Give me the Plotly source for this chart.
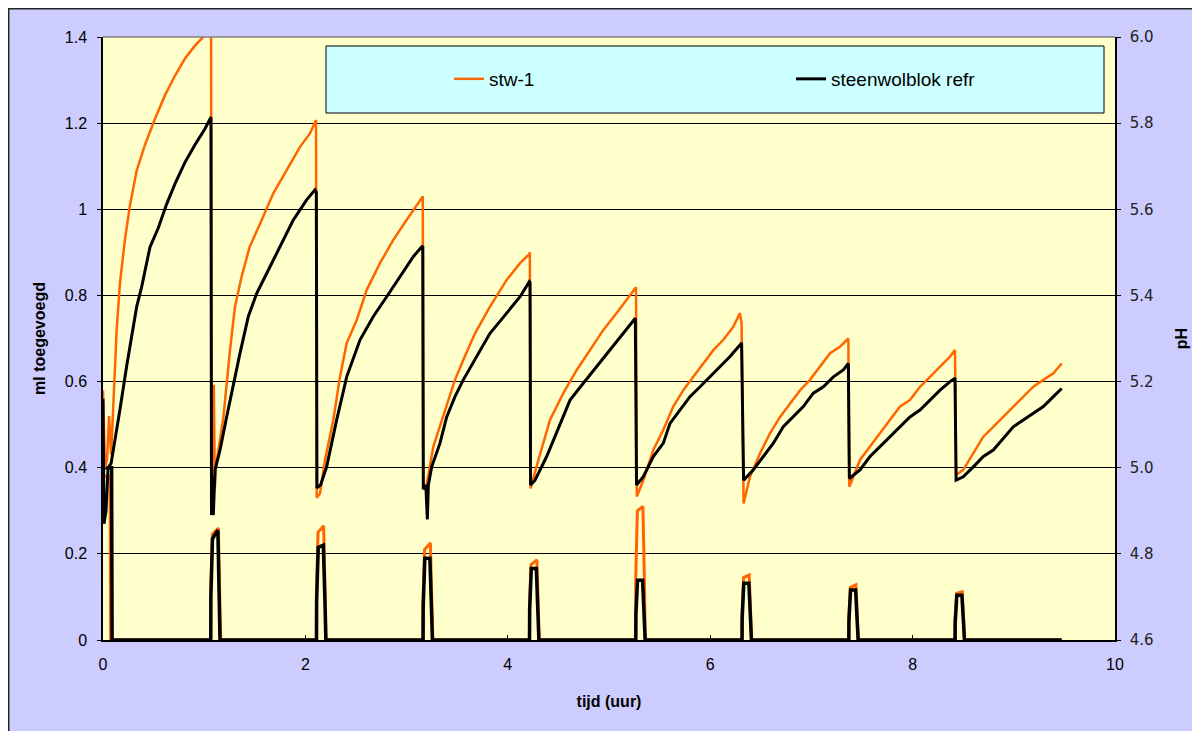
import plotly.graph_objects as go

# ---------------- data ----------------
# pH curves (right axis)
t_ph_stw = [0.0, 0.02, 0.04, 0.06, 0.08, 0.10, 0.135, 0.168, 0.217, 0.267, 0.333, 0.415, 0.514, 0.613, 0.711, 0.81, 0.909, 0.99, 1.068,
            1.072, 1.085, 1.095, 1.105, 1.115, 1.19, 1.255, 1.304, 1.37, 1.45, 1.568, 1.683, 1.815, 1.947, 2.045, 2.105,
            2.112, 2.144, 2.194, 2.276, 2.342, 2.408, 2.507, 2.606, 2.737, 2.869, 3.0, 3.149, 3.16,
            3.165, 3.19, 3.264, 3.347, 3.396, 3.478, 3.56, 3.676, 3.824, 3.989, 4.121, 4.213, 4.218,
            4.225, 4.302, 4.417, 4.549, 4.681, 4.812, 4.944, 5.076, 5.208, 5.267,
            5.275, 5.339, 5.438, 5.537, 5.635, 5.734, 5.833, 5.932, 6.031, 6.13, 6.228, 6.294, 6.31,
            6.33, 6.393, 6.492, 6.591, 6.69, 6.789, 6.888, 6.986, 7.085, 7.184, 7.283, 7.355, 7.365,
            7.375, 7.48, 7.579, 7.678, 7.777, 7.876, 7.974, 8.073, 8.172, 8.271, 8.37, 8.419,
            8.43, 8.5, 8.6, 8.699, 8.797, 8.896, 8.995, 9.094, 9.193, 9.292, 9.391, 9.473]
ph_stw = [5.18, 5.00, 5.02, 5.12, 5.03, 5.14, 5.32, 5.43, 5.53, 5.61, 5.69, 5.75, 5.81, 5.865, 5.91, 5.95, 5.98, 6.00, 6.04,
          4.90, 5.19, 5.19, 4.95, 5.00, 5.118, 5.273, 5.374, 5.444, 5.513, 5.575, 5.637, 5.691, 5.745, 5.776, 5.807,
          4.93, 4.94, 5.018, 5.111, 5.211, 5.289, 5.343, 5.413, 5.475, 5.529, 5.575, 5.629, 5.63,
          4.96, 4.95, 5.049, 5.111, 5.142, 5.204, 5.25, 5.312, 5.374, 5.436, 5.475, 5.496, 5.50,
          4.952, 5.018, 5.111, 5.173, 5.227, 5.273, 5.32, 5.359, 5.401, 5.419,
          4.933, 4.971, 5.041, 5.088, 5.142, 5.18, 5.211, 5.242, 5.273, 5.297, 5.327, 5.359, 5.336,
          4.917, 4.979, 5.033, 5.08, 5.118, 5.15, 5.18, 5.204, 5.235, 5.266, 5.281, 5.298, 5.30,
          4.956, 5.018, 5.049, 5.08, 5.111, 5.142, 5.157, 5.188, 5.211, 5.235, 5.258, 5.273,
          4.983, 4.995, 5.033, 5.072, 5.095, 5.118, 5.142, 5.165, 5.188, 5.204, 5.219, 5.242]

t_ph_ref = [0.0, 0.01, 0.03, 0.05, 0.08, 0.119, 0.168, 0.234, 0.283, 0.333, 0.382, 0.464, 0.547, 0.629, 0.711, 0.81, 0.909, 1.008, 1.067,
            1.072, 1.08, 1.09, 1.107, 1.156, 1.222, 1.288, 1.354, 1.436, 1.519, 1.617, 1.749, 1.88, 2.012, 2.095, 2.108,
            2.114, 2.15, 2.21, 2.309, 2.408, 2.54, 2.671, 2.803, 2.935, 3.066, 3.149, 3.16,
            3.165, 3.19, 3.205, 3.215, 3.248, 3.33, 3.396, 3.478, 3.56, 3.692, 3.824, 3.989, 4.121, 4.213, 4.22,
            4.225, 4.269, 4.384, 4.516, 4.615, 4.746, 4.878, 5.01, 5.141, 5.26,
            5.272, 5.339, 5.438, 5.537, 5.603, 5.702, 5.8, 5.9, 5.998, 6.097, 6.196, 6.294, 6.31,
            6.33, 6.426, 6.525, 6.624, 6.722, 6.821, 6.92, 7.019, 7.118, 7.217, 7.315, 7.365,
            7.375, 7.48, 7.579, 7.678, 7.777, 7.876, 7.974, 8.073, 8.172, 8.271, 8.37, 8.419,
            8.43, 8.5, 8.6, 8.699, 8.797, 8.896, 8.995, 9.094, 9.193, 9.292, 9.391, 9.473]
ph_ref = [5.16, 4.87, 4.90, 5.00, 5.01, 5.062, 5.136, 5.236, 5.30, 5.374, 5.42, 5.512, 5.557, 5.612, 5.659, 5.709, 5.75, 5.787, 5.814,
          4.89, 4.98, 4.89, 4.995, 5.041, 5.118, 5.196, 5.266, 5.351, 5.405, 5.451, 5.513, 5.575, 5.622, 5.645, 5.64,
          4.953, 4.96, 5.002, 5.111, 5.211, 5.297, 5.351, 5.397, 5.444, 5.49, 5.513, 5.515,
          4.95, 4.96, 4.88, 4.96, 5.002, 5.057, 5.118, 5.165, 5.204, 5.258, 5.312, 5.359, 5.397, 5.432, 5.43,
          4.96, 4.971, 5.026, 5.103, 5.157, 5.196, 5.235, 5.273, 5.312, 5.347,
          4.96, 4.979, 5.026, 5.057, 5.103, 5.134, 5.165, 5.188, 5.211, 5.235, 5.258, 5.285, 5.29,
          4.971, 4.995, 5.026, 5.057, 5.095, 5.118, 5.142, 5.173, 5.188, 5.211, 5.227, 5.242,
          4.975, 4.995, 5.026, 5.049, 5.072, 5.095, 5.118, 5.134, 5.157, 5.18, 5.20, 5.208,
          4.971, 4.979, 5.002, 5.026, 5.041, 5.068, 5.095, 5.111, 5.126, 5.142, 5.165, 5.184]

# ml added (left axis)
t_ml_stw = [0.0, 0.07, 0.075,
            1.063, 1.064, 1.08, 1.14, 1.155, 1.163,
            2.108, 2.109, 2.125, 2.18, 2.196, 2.205,
            3.161, 3.162, 3.178, 3.235, 3.25, 3.26,
            4.213, 4.214, 4.23, 4.287, 4.302, 4.311,
            5.263, 5.264, 5.28, 5.335, 5.35, 5.359,
            6.313, 6.314, 6.33, 6.385, 6.40, 6.409,
            7.368, 7.369, 7.385, 7.44, 7.455, 7.464,
            8.418, 8.419, 8.435, 8.49, 8.505, 8.514,
            9.473]
ml_stw = [0.38, 0.38, 0.0,
          0.0, 0.11, 0.245, 0.26, 0.11, 0.0,
          0.0, 0.11, 0.25, 0.265, 0.10, 0.0,
          0.0, 0.085, 0.21, 0.225, 0.08, 0.0,
          0.0, 0.08, 0.175, 0.186, 0.07, 0.0,
          0.0, 0.14, 0.30, 0.31, 0.14, 0.0,
          0.0, 0.06, 0.145, 0.151, 0.06, 0.0,
          0.0, 0.05, 0.122, 0.128, 0.05, 0.0,
          0.0, 0.045, 0.108, 0.112, 0.045, 0.0,
          0.0]

t_ml_ref = [0.0, 0.085, 0.09,
            1.065, 1.066, 1.082, 1.135, 1.15, 1.156,
            2.11, 2.111, 2.127, 2.177, 2.193, 2.202,
            3.163, 3.164, 3.18, 3.23, 3.246, 3.255,
            4.215, 4.216, 4.232, 4.282, 4.298, 4.307,
            5.265, 5.266, 5.282, 5.332, 5.348, 5.357,
            6.315, 6.316, 6.332, 6.382, 6.398, 6.407,
            7.37, 7.371, 7.387, 7.437, 7.453, 7.462,
            8.42, 8.421, 8.437, 8.487, 8.503, 8.512,
            9.473]
ml_ref = [0.40, 0.40, 0.0,
          0.0, 0.10, 0.235, 0.255, 0.10, 0.0,
          0.0, 0.09, 0.215, 0.22, 0.09, 0.0,
          0.0, 0.077, 0.19, 0.19, 0.07, 0.0,
          0.0, 0.07, 0.166, 0.166, 0.06, 0.0,
          0.0, 0.06, 0.139, 0.139, 0.05, 0.0,
          0.0, 0.05, 0.132, 0.132, 0.05, 0.0,
          0.0, 0.045, 0.116, 0.116, 0.04, 0.0,
          0.0, 0.04, 0.104, 0.104, 0.04, 0.0,
          0.0]

series_names = ["stw-1", "steenwolblok refr"]
series_colors = ["#FF6600", "#000000"]

x_title = "tijd (uur)"
y_title = "ml toegevoegd"
y2_title = "pH"

# ---------------- figure ----------------
fig = go.Figure()

fig.add_trace(go.Scatter(x=t_ml_stw, y=ml_stw, mode="lines", name=series_names[0],
                         legendgroup="a", showlegend=False,
                         line=dict(color=series_colors[0], width=3), yaxis="y"))
fig.add_trace(go.Scatter(x=t_ml_ref, y=ml_ref, mode="lines", name=series_names[1],
                         legendgroup="b", showlegend=False,
                         line=dict(color=series_colors[1], width=3.5), yaxis="y"))
fig.add_trace(go.Scatter(x=t_ph_stw, y=ph_stw, mode="lines", name=series_names[0],
                         legendgroup="a",
                         line=dict(color=series_colors[0], width=2.5), yaxis="y2"))
fig.add_trace(go.Scatter(x=t_ph_ref, y=ph_ref, mode="lines", name=series_names[1],
                         legendgroup="b",
                         line=dict(color=series_colors[1], width=3), yaxis="y2"))

# page body has an 8px margin; figure coordinates = screen - 8
OFF = 8
W, H = 1200, 731
L, T = 103 - OFF, 37 - OFF
R = W - (1115 - OFF)
B = H - (640 - OFF)
pw, ph_ = W - L - R, H - T - B


def sx(p):
    """screen x pixel -> paper x"""
    return (p - OFF - L) / pw


def sy(p):
    """screen y pixel -> paper y"""
    return (H - B - (p - OFF)) / ph_


fig.update_layout(
    width=W, height=H,
    margin=dict(l=L, r=R, t=T, b=B, autoexpand=False),
    paper_bgcolor="#CCCCFF",
    plot_bgcolor="#FFFFCC",
    font=dict(family="Liberation Sans, Arial, sans-serif", size=16, color="#000000"),
    showlegend=True,
    legend=dict(orientation="h", x=sx(449), xanchor="left", y=sy(79), yanchor="middle",
                bgcolor="rgba(0,0,0,0)", borderwidth=0,
                font=dict(family="Liberation Sans, Arial, sans-serif", size=19, color="#000000"),
                entrywidth=297, entrywidthmode="pixels", itemwidth=30,
                traceorder="normal"),
    xaxis=dict(range=[0, 10], dtick=2, tick0=0, showgrid=False, zeroline=False,
               showline=True, linecolor="#000000", linewidth=1.5,
               ticks="inside", ticklen=5, tickcolor="#000000",
               ticklabelstandoff=9,
               tickfont=dict(family="Liberation Sans, Arial, sans-serif", size=16),
               title=dict(text=x_title, standoff=24,
                          font=dict(family="Liberation Sans, Arial, sans-serif", size=16, weight="bold")),
               automargin=False),
    yaxis=dict(range=[0, 1.4], dtick=0.2, tick0=0, showgrid=True, gridcolor="#000000", gridwidth=1,
               zeroline=False, showline=True, linecolor="#000000", linewidth=1.5,
               ticks="outside", ticklen=4, tickcolor="#000000",
               ticklabelstandoff=7,
               tickfont=dict(family="Liberation Sans, Arial, sans-serif", size=16),
               title=dict(text=y_title, standoff=15,
                          font=dict(family="Liberation Sans, Arial, sans-serif", size=16, weight="bold")),
               automargin=False),
    yaxis2=dict(range=[4.6, 6.0], dtick=0.2, tick0=4.6, tickformat=".1f", overlaying="y", side="right",
                showgrid=False, zeroline=False, showline=True, linecolor="#000000", linewidth=1.5,
                ticks="outside", ticklen=4, tickcolor="#000000",
                ticklabelstandoff=6,
                tickfont=dict(family="DejaVu Sans, Verdana, sans-serif", size=15, color="#222222"),
                title=dict(text=y2_title, standoff=23,
                           font=dict(family="Liberation Sans, Arial, sans-serif", size=16, weight="bold")),
                automargin=False),
    shapes=[
        # top border of plot area
        dict(type="line", xref="paper", yref="paper", x0=0, x1=1, y0=1, y1=1,
             line=dict(color="#808080", width=1.5), layer="above"),
        # legend box
        dict(type="rect", xref="paper", yref="paper",
             x0=sx(326), x1=sx(1104), y0=sy(113), y1=sy(46),
             fillcolor="#CCFFFF", line=dict(color="#000000", width=1), layer="above"),
        # outer chart border (chart edge)
        dict(type="rect", xref="paper", yref="paper",
             x0=sx(8.7), x1=sx(1300), y0=sy(900), y1=sy(8.7),
             line=dict(color="#222222", width=1.5), layer="below"),
    ],
)

fig.write_html("out.html")
